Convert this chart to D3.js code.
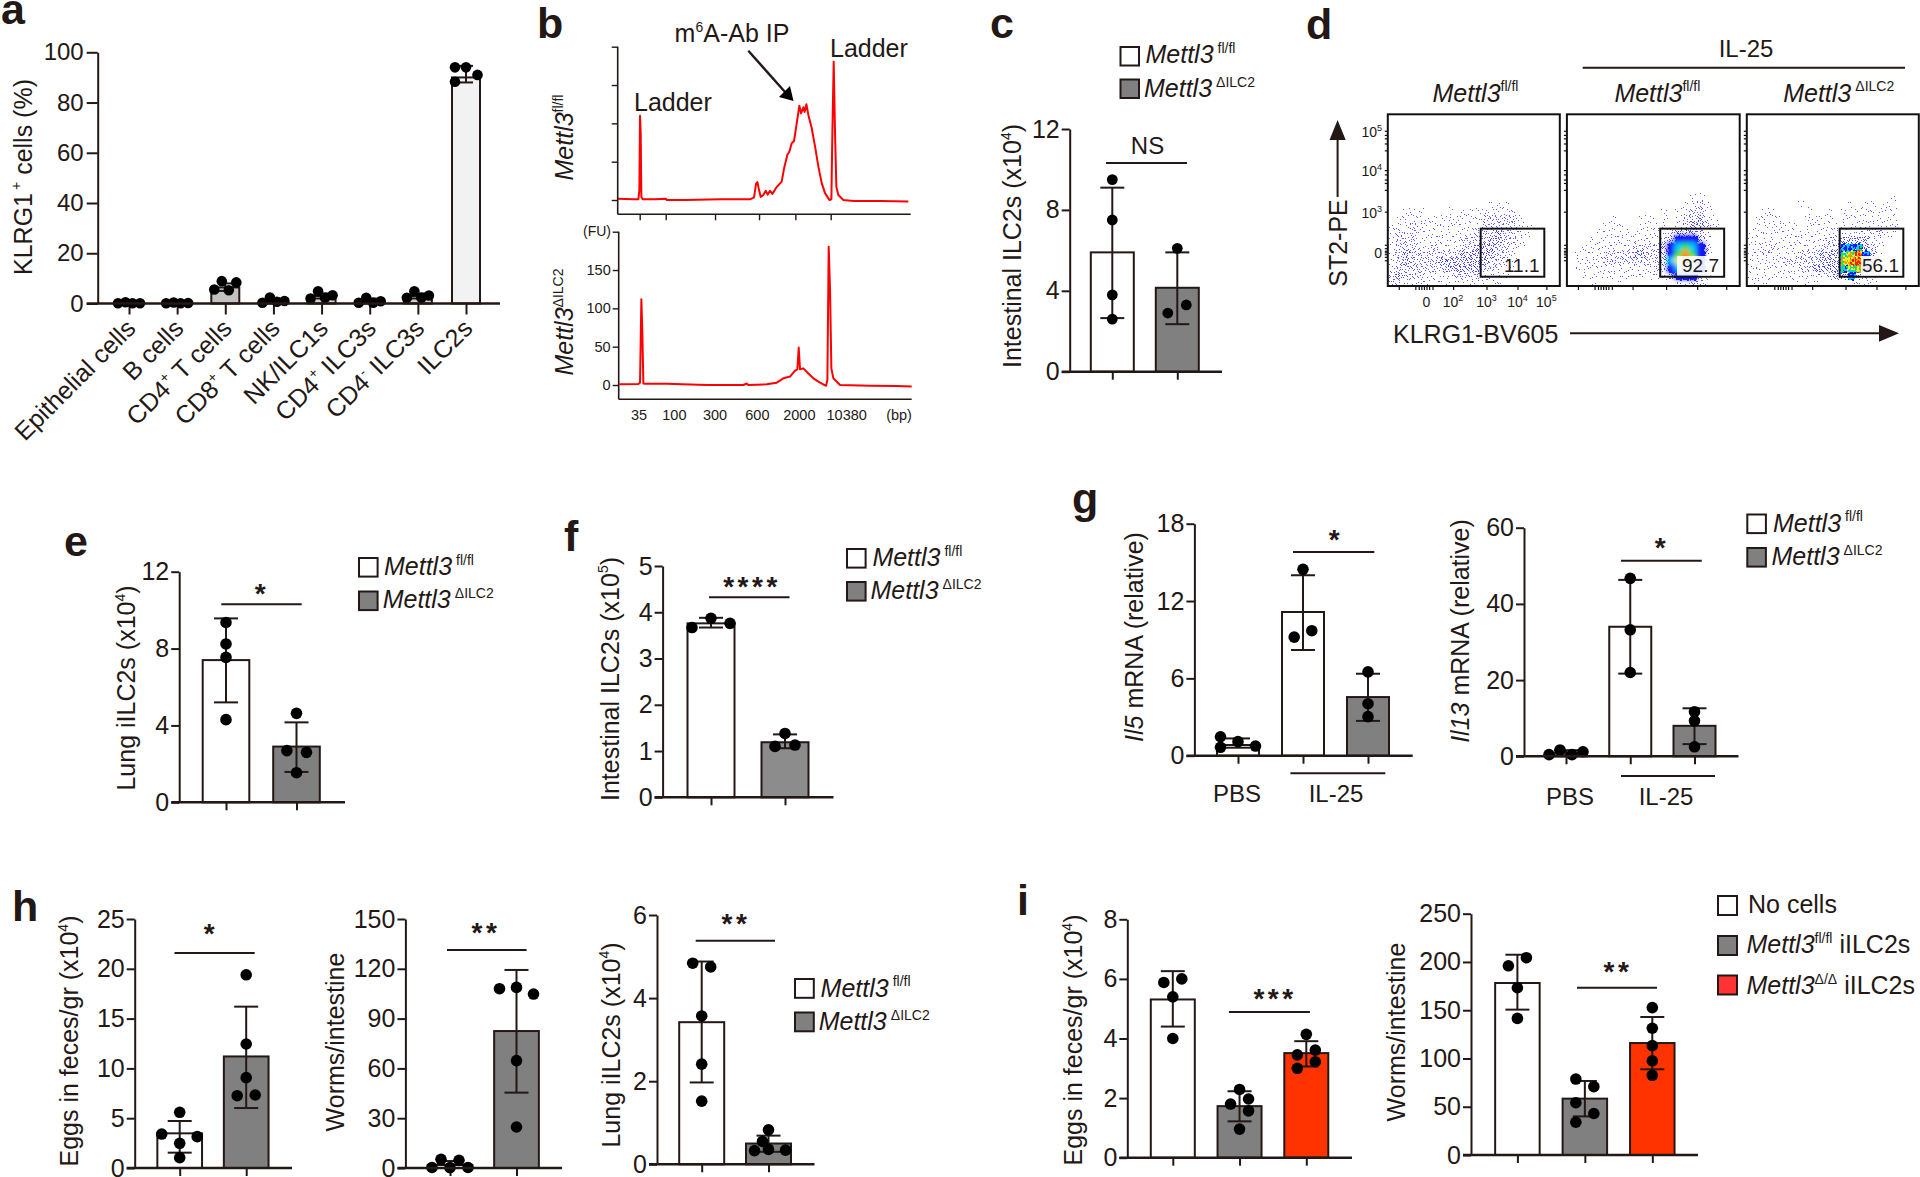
<!DOCTYPE html>
<html><head><meta charset="utf-8">
<script src="https://cdn.jsdelivr.net/npm/d3@7"></script>
<style>
html,body{margin:0;padding:0;background:#fff}
svg{display:block}
text{font-family:"Liberation Sans",Arial,sans-serif;fill:#231815}
</style></head><body>
<script>
// ---------- DATA ----------
const aCategories=[[["Epithelial cells"]],[["B cells"]],[["CD4"],["+","s"],[" T cells"]],[["CD8"],["+","s"],[" T cells"]],[["NK/ILC1s"]],[["CD4"],["+","s"],[" ILC3s"]],[["CD4"],["-","s"],[" ILC3s"]],[["ILC2s"]]];
const aMeans=[0.2,0.2,6.4,1,3,1,3,90];
const aHi=[0.3,0.3,8,2,4,2,4,94.6];
const aLo=[0.1,0.1,5,0.3,2,0.3,2,88];
const aDots=[[0.1,0.5,0.1,0.1],[0.1,0.4,0.1,0.2],[5.6,8.9,5.3,8.4],[0.3,2.4,0.7,1],[2,4.9,2.3,3.3],[0.3,2.3,0.3,0.9],[2.3,4.9,2.3,3.2],[94,94,91,88.3]];

const cMeans=[5.9,4.15],cHi=[9.1,5.9],cLo=[2.65,2.35],cDots=[[9.5,7.5,3.8,2.6],[6.1,3.3,2.9]];
const eMeans=[7.4,2.9],eHi=[9.57,4.16],eLo=[5.2,1.58],eDots=[[9.36,8.24,7.54,4.3],[4.63,2.69,2.6,1.54]];
const fMeans=[3.76,1.19],fHi=[3.88,1.36],fLo=[3.67,1.06],fDots=[[3.67,3.87,3.76],[1.38,1.1,1.13]];
const g1Means=[0.83,11.15,4.55],g1Hi=[1.34,14,6.36],g1Lo=[0.62,8.2,2.7],g1Dots=[[1.47,0.65,1.09,0.75],[14.46,9.2,9.7],[6.5,4.03,3.03]];
const g2Means=[0.9,34,8],g2Hi=[1.6,46.3,12.6],g2Lo=[0.3,21.7,3.2],g2Dots=[[0.44,1.66,0.44,1.2],[46.7,33.2,22],[11.7,9.3,2.5]];
const h1Means=[3.48,11.2],h1Hi=[4.72,16.2],h1Lo=[1.54,6.02],h1Dots=[[5.59,3.41,3.15,2.48,1.04],[19.4,12.45,9.07,7.26,7.33]];
const h2Means=[1.8,82.5],h2Hi=[4.2,119.3],h2Lo=[0,45.4],h2Dots=[[0.3,5.2,0.2,4.6,0.3],[108,108.8,104.8,64.7,24.7]];
const h3Means=[3.42,0.5],h3Hi=[4.88,0.69],h3Lo=[1.97,0.3],h3Dots=[[4.84,4.75,3.57,2.41,1.52],[0.83,0.55,0.33,0.36,0.34]];
const i1Means=[5.31,1.73,3.51],i1Hi=[6.26,2.23,3.91],i1Lo=[4.4,1.22,3.06],i1Dots=[[5.88,6,5.4,4],[2.29,1.97,1.8,1.57,0.96],[4.14,3.45,3.61,3.22,3]];
const i2Means=[178.2,58.4,116],i2Hi=[207.5,76.7,143],i2Lo=[150.6,40,88.8],i2Dots=[[204.4,196,173.3,141.5],[78.7,70.8,54.2,43,34],[152.7,131.3,113.3,97.5,82.6]];

// Electropherograms: [migration time (s), fluorescence units]
const bTraceFl=[[29.3,1.7],[34,0.9],[35.5,0.9],[35.8,13],[36,110],[36.2,87],[36.4,4],[36.8,1],[40.5,0.9],[43.8,1.7],[44,0],[50,0],[60,0.9],[69,0.9],[70.2,3.5],[70.8,21],[71.2,23.5],[71.6,15],[72.2,4],[73,6.5],[73.7,12],[74.3,7],[75,12],[75.7,8],[77,17],[78.5,24],[79.2,41],[80.2,59],[80.8,63],[81.5,74],[82.2,77],[83,100],[83.8,123],[84.3,113],[85,121],[85.4,115],[85.9,125],[86.5,111],[87.5,94],[88.5,70],[89.5,43.5],[90.5,22],[91.5,9],[92.8,0],[93.4,1],[93.7,87],[94.1,180.5],[94.5,87],[94.9,17],[95.5,6.5],[97,0],[100,-1.3],[108,-1.3],[116.5,-2]];
const bTraceKO=[[29.8,0.9],[35.5,1.3],[36,3],[36.4,112],[36.7,67],[37,2],[37.5,1.7],[44,1.7],[56,0],[67,0],[68,2],[68.5,0],[74,0.9],[77,3],[79,8.7],[81,11],[82.5,18.7],[83.2,20.4],[83.6,49],[84,20.4],[85,21.7],[86.5,15],[88,8.7],[90,3],[91.8,-1],[92.2,6.5],[92.6,180.5],[93,124],[93.4,21.7],[94,8.7],[96,0],[105,-1],[113,-1.3],[117.5,-2]];
const bYTicks=[0,50,100,150,200];
const bYLabels=[0,50,100,150];
const bTopXTicks=[35.9,43.7,58.5,71.7,82.6,93.2];
const bBpLabels=["35","100","300","600","2000","10380","(bp)"];
const bBpAt=[35.7,46.3,58.5,71.2,83.8,98,113.7];

// Flow plots: density rows 11-23 as digits (0 empty, 1-4 blue stipple, 5 cyan, 6 green, 7 yellow, 8 orange, 9 red)
const dDensity1=["000000000000000000000000","000000000000001110000000","001110001011111111000000","011111111111122222100000","111211111111122222110000","121211111111222322110000","122211111122223322100000","122211211122333221100000","123222222233333221000000","123222233333332211000000","122222223333322111000000","232221111222211110000000","221111111111111100000000"];
const dDensity2=["000000000000000001100000","000000000000000011210000","000000000000010112210000","000000100011010122311000","000001110011110123321000","000011111111112333210000","000111111111123444310000","001111111222234565420000","011112222332234686420000","011112222222235797420000","011111111111224575410000","001111111111113444210000","000100010000000112210000"];
const dDensity3=["000000000000000000001000","000000010000001011010000","001100001001010111111000","011110001111011111111000","011111101111111111111000","111111111111111112211000","111111111112233331100000","111211111122244532100000","112111122233367843100000","111112222233378953100000","111111122333356743100000","111111111112334321000000","011000101100001111000000"];
const dGateValues=["11.1","92.7","56.1"];
const dYTickLabels=[["10","5"],["10","4"],["10","3"],["0",""]];
const dXTickLabels=[["0",""],["10","2"],["10","3"],["10","4"],["10","5"]];
const dYChannels=[90.4,67.5,43.3,19.6];
const dXChannels=[22.5,37.9,57.4,75.4,92.2];

// ---------- LAYOUT ----------
const INK="#231815", GREY="#808080", RED="#ff3300";
const svg=d3.select("body").append("svg").attr("width",1920).attr("height",1177);
const FONT=25;

function rich(sel,segs,fs,supFs){
  let off=0;
  segs.forEach(seg=>{
    const s=seg[1]||"", dx=seg[2]||0;
    const sup=s.includes("s");
    const t=sel.append("tspan").text(seg[0]);
    const target=sup?-0.42*fs:0;
    t.attr("dy",target-off).attr("font-size",sup?(supFs||fs*0.56):fs);
    if(dx)t.attr("dx",dx);
    if(s.includes("i"))t.attr("font-style","italic");
    off=target;
  });
  return sel;
}
function text(x,y,segs,o={}){
  const fs=o.fs||FONT;
  const t=svg.append("text").attr("font-size",fs).attr("text-anchor",o.anchor||"start");
  if(o.rotate!==undefined)t.attr("transform",`translate(${x},${y}) rotate(${o.rotate})`);
  else t.attr("x",x).attr("y",y);
  if(o.weight)t.attr("font-weight",o.weight);
  return rich(t,typeof segs==="string"?[[segs]]:segs,fs,o.supFs);
}
function line(x1,y1,x2,y2,w=2){svg.append("line").attr("x1",x1).attr("y1",y1).attr("x2",x2).attr("y2",y2).attr("stroke",INK).attr("stroke-width",w);}

function barPanel(p){
  const g=svg.append("g");
  const cats=d3.range(p.means.length);
  const x=d3.scalePoint().domain(cats).range(p.centers);
  const y=d3.scaleLinear().domain([0,p.yMax]).range([p.yBase,p.yTop]);
  const tick=p.tick||8, lw=p.lw||2, r=p.r||5.8, cap=p.cap||12;
  g.selectAll("rect").data(p.means).join("rect")
    .attr("x",(d,i)=>x(i)-p.barW/2).attr("width",p.barW)
    .attr("y",d=>y(d)).attr("height",d=>y(0)-y(d))
    .attr("fill",(d,i)=>p.fills[i]).attr("stroke",INK).attr("stroke-width",lw);
  const ax=g.append("g").attr("transform",`translate(${p.axisX},0)`)
    .call(d3.axisLeft(y).tickValues(p.ticks).tickFormat(d3.format("d")).tickSize(tick).tickSizeOuter(0).tickPadding(p.pad||2));
  ax.selectAll("text").attr("font-size",p.tickFs||25).attr("font-family",null).style("fill",INK);
  ax.selectAll("line,path").attr("stroke",INK).attr("stroke-width",lw);
  const bx=g.append("g").attr("transform",`translate(0,${p.yBase})`)
    .call(d3.axisBottom(x).tickSize(tick).tickSizeOuter(0).tickFormat(""));
  bx.select("path").remove();
  bx.selectAll("line").attr("stroke",INK).attr("stroke-width",lw);
  line(p.axisX-tick,p.yBase,p.xEnd,p.yBase,lw+0.4);
  const e=g.append("g").attr("stroke",INK).attr("stroke-width",lw).attr("fill","none");
  p.means.forEach((m,i)=>{
    const cx=x(i);
    e.append("line").attr("x1",cx).attr("x2",cx).attr("y1",y(p.hi[i])).attr("y2",y(p.lo[i]));
    [p.hi[i],p.lo[i]].forEach(v=>e.append("line").attr("x1",cx-cap).attr("x2",cx+cap).attr("y1",y(v)).attr("y2",y(v)));
    g.append("g").selectAll("circle").data(p.dots[i]).join("circle")
      .attr("cx",(d,j)=>cx+p.swarm[i][j]).attr("cy",d=>y(d)).attr("r",r).attr("fill","#000");
  });
  if(p.title){
    text(p.title.x,p.title.y,p.title.segs,{rotate:-90,anchor:"middle"});
  }
  if(p.sig){
    const s=p.sig;
    line(s.x1,s.y,s.x2,s.y,2);
    if(s.label==="NS") text((s.x1+s.x2)/2+1,s.y-9,"NS",{anchor:"middle",fs:24});
    else{
      svg.append("text").attr("x",s.tx).attr("y",s.ty+16).attr("text-anchor","middle")
        .attr("font-size",28).attr("font-weight","bold").attr("letter-spacing",3.5).text(s.label);
    }
  }
}
function legend(items){
  items.forEach(it=>{
    svg.append("rect").attr("x",it.x).attr("y",it.y).attr("width",it.s).attr("height",it.s)
      .attr("fill",it.fill).attr("stroke",INK).attr("stroke-width",2);
    text(it.tx,it.ty,it.segs,{supFs:14});
  });
}
const FL=[["Mettl3","i"],["fl/fl","s",4]], KO=[["Mettl3","i"],["\u0394ILC2","s",4]];

// panel letters
[["a",1,24],["b",537,38],["c",990,38],["d",1306,39],["e",64,556],["f",564,551],["g",1072,513],["h",12,921],["i",1017,915]]
 .forEach(d=>svg.append("text").attr("x",d[1]).attr("y",d[2]).attr("font-size",43).attr("font-weight","bold").text(d[0]));

// ----- a -----
barPanel({means:aMeans,hi:aHi,lo:aLo,dots:aDots,axisX:97.7,yBase:303.5,yTop:52.3,yMax:100,xEnd:500,
  centers:[129,466],barW:28,ticks:[0,20,40,60,80,100],tick:11,r:5.3,cap:7,tickFs:24,pad:3,
  fills:["#fff","#fff","#c2c2c2","#fff","#d0d0d0","#fff","#d0d0d0","#f2f2f2"],
  swarm:[[-11,-3.5,3.5,11],[-11,-3.5,3.5,11],[-11,-3.5,3.5,11],[-11,-3.5,3.5,11],[-11,-3.5,3.5,11],[-11,-3.5,3.5,11],[-11,-3.5,3.5,11],[-11,0,11.5,-11]],
  title:{x:31.7,y:177,segs:[["KLRG1"],["+","s",3],[" cells (%)"]]}});
{
  const x=d3.scalePoint().domain(d3.range(aCategories.length)).range([129,466]);
  aCategories.forEach((segs,i)=>text(x(i)+8,330,segs,{rotate:-45,anchor:"end"}));
}

// ----- b -----
function bPanel(o){
  const x=d3.scaleLinear().domain(o.tDom).range(o.xRange);
  const y=d3.scaleLinear().domain([0,200]).range(o.yRange);
  const g=svg.append("g");
  const ay=g.append("g").attr("transform",`translate(${o.xRange[0]},0)`)
     .call(d3.axisLeft(y).tickValues(bYTicks).tickSize(6).tickFormat(d=>o.labels&&bYLabels.includes(d)?d:"").tickPadding(2));
  ay.select("path").remove();
  ay.selectAll("text").attr("font-size",14.5).attr("font-family",null).style("fill",INK);
  ay.selectAll("line").attr("stroke",INK).attr("stroke-width",1.4);
  line(o.xRange[0],y(200),o.xRange[0],o.axisY,1.6);
  line(o.xRange[0],o.axisY,o.xRange[1],o.axisY,1.6);
  if(o.ticks){
    const ax=g.append("g").attr("transform",`translate(0,${o.axisY})`)
      .call(d3.axisBottom(x).tickValues(o.ticks).tickSize(6).tickSizeOuter(0).tickFormat(""));
    ax.select("path").remove(); ax.selectAll("line").attr("stroke",INK).attr("stroke-width",1.4);
  }
  g.append("path").datum(o.trace).attr("fill","none").attr("stroke","#ff0000").attr("stroke-width",2).attr("stroke-linejoin","round")
    .attr("d",d3.line().x(d=>x(d[0])).y(d=>y(d[1])));
  return {x,y};
}
bPanel({tDom:[29.3,117.2],xRange:[617.7,910.7],yRange:[200,46.7],axisY:214.3,trace:bTraceFl,ticks:bTopXTicks});
const bBot=bPanel({tDom:[29.6,117.5],xRange:[618.7,911.7],yRange:[385,231.7],axisY:399.3,trace:bTraceKO,labels:true});
bBpLabels.forEach((l,i)=>text(bBot.x(bBpAt[i]),419.5,l,{anchor:"middle",fs:14.5}));
text(611,236,"(FU)",{anchor:"end",fs:14});
text(732,42,[["m"],["6","s"],["A-Ab IP"]],{anchor:"middle"});
text(634,111,"Ladder"); text(830,57,"Ladder");
text(573,137.5,[["Mettl3","i"],["fl/fl","s"]],{rotate:-90,anchor:"middle",supFs:14});
text(573,322,[["Mettl3","i"],["\u0394ILC2","s"]],{rotate:-90,anchor:"middle",supFs:14});
line(748.3,50.7,785,92,2.4);
svg.append("path").attr("fill","#000").attr("d",d3.line()([[793.5,101],[779,97],[790,86]]));

// ----- c -----
barPanel({means:cMeans,hi:cHi,lo:cLo,dots:cDots,axisX:1069.7,yBase:371.7,yTop:129,yMax:12,xEnd:1222,r:5.4,
  centers:[1112.3,1177.3],barW:43,ticks:[0,4,8,12],fills:["#fff",GREY],
  swarm:[[0,0,0,0],[0,9,-9.5]],
  title:{x:1021,y:246,segs:[["Intestinal ILC2s (x10"],["4","s"],[")"]]},
  sig:{x1:1106,x2:1187,y:163,label:"NS"}});
legend([{x:1120.5,y:47,s:18.5,fill:"#fff",tx:1145.5,ty:63,segs:FL},{x:1120.5,y:79.5,s:18.5,fill:GREY,tx:1144,ty:97,segs:KO}]);

// ----- d -----
const dOffsets=[[.12,.31],[.78,.14],[.42,.66],[.93,.52],[.27,.88],[.61,.22],[.05,.59],[.83,.81],[.36,.09],[.55,.44],[.17,.71],[.7,.96],[.48,.01],[.98,.27],[.23,.4],[.66,.62],[.31,.54],[.89,.06],[.08,.18],[.52,.78],[.74,.36],[.14,.95],[.43,.26],[.6,.89]];
const dCount=[0,3,8,14,24];
const defs=svg.append("defs");
defs.append("filter").attr("id","hot").attr("x","-20%").attr("y","-20%").attr("width","140%").attr("height","140%")
  .append("feGaussianBlur").attr("stdDeviation",2);
const hotColor=d3.scaleLinear().domain([4,5,6,7,8,9]).range(["#1616ff","#00c8ff","#20e060","#e8f020","#ff9a00","#ff2000"]);
function flow(left,right,density,val,valRight,patch,solid){
  const top=114.3,bot=286;
  const x=d3.scaleLinear().domain([0,100]).range([left,right]);
  const y=d3.scaleLinear().domain([0,100]).range([bot,top]);
  const col=d3.scaleBand().domain(d3.range(24)).range([left,right]);
  const row=d3.scaleBand().domain(d3.range(24)).range([top,bot]);
  const gp=svg.append("g"), hot=svg.append("g").attr("filter","url(#hot)");
  density.forEach((s,ri)=>{
    const r=ri+11;
    s.split("").forEach((ch,c)=>{
      const v=+ch;
      if(solid && v>=4) hot.append("rect").attr("x",col(c)-0.5).attr("y",row(r)-0.5).attr("width",col.bandwidth()+1).attr("height",row.bandwidth()+1).attr("fill",hotColor(v));
      const n=dCount[Math.min(v,4)];
      for(let k=0;k<n;k++){
        const o=dOffsets[(k+r*7+c*11)%dOffsets.length];
        let fill=v>=3?"#1a1af0":"#3434ff";
        if(!solid && v>=4) fill=k%3===0?hotColor(Math.max(4,v-1)):k%3===1?hotColor(v):hotColor(Math.min(9,v+1));
        else if(v===3 && k===0) fill="#ffb040";
        const sz=v>=4?2:1;
        gp.append("rect").attr("x",Math.round(col(c)+o[0]*col.bandwidth())).attr("y",Math.round(row(r)+o[1]*row.bandwidth()))
          .attr("width",sz).attr("height",sz).attr("fill",fill).attr("opacity",v>=4?1:.8);
      }
    });
  });
  svg.append("rect").attr("x",left).attr("y",top).attr("width",right-left).attr("height",bot-top).attr("fill","none").attr("stroke","#111").attr("stroke-width",2);
  // gate
  svg.append("rect").attr("x",x(54)).attr("y",y(33.4)).attr("width",x(91)-x(54)).attr("height",y(5.4)-y(33.4)).attr("fill","none").attr("stroke","#111").attr("stroke-width",2);
  if(patch) svg.append("rect").attr("x",valRight-patch).attr("y",256).attr("width",patch+3).attr("height",19.5).attr("fill","#fff").attr("opacity",.9);
  text(valRight,271.7,val,{anchor:"end",fs:19});
  // axis ticks
  const ax=svg.append("g").attr("transform",`translate(0,${bot})`)
    .call(d3.axisBottom(x).tickValues([6.4,16,18,19.5,21,22.5,24,26,38,57.4,75.4,92.2]).tickSize(4).tickFormat(""));
  ax.select("path").remove(); ax.selectAll("line").attr("stroke","#111").attr("stroke-width",1.2);
  const ay=svg.append("g").attr("transform",`translate(${left},0)`)
    .call(d3.axisLeft(y).tickValues([...dYChannels,15,17,18.5,20.5,22,24,79,83,86,88,56,60,62,65]).tickSize(3).tickFormat(""));
  ay.select("path").remove(); ay.selectAll("line").attr("stroke","#111").attr("stroke-width",1.2);
  return {x,y};
}
const d1=flow(1387.8,1559.8,dDensity1,dGateValues[0],1539.5,0,false);
flow(1566.9,1739.7,dDensity2,dGateValues[1],1719,42,true);
flow(1746.8,1918.8,dDensity3,dGateValues[2],1899,38,false);
dYTickLabels.forEach((l,i)=>text(1382,d1.y(dYChannels[i])+6,[[l[0]],[l[1],"s"]],{anchor:"end",fs:14,supFs:9}));
dXTickLabels.forEach((l,i)=>text(d1.x(dXChannels[i]),307,[[l[0]],[l[1],"s"]],{anchor:"middle",fs:14,supFs:9}));
text(1432.5,101.7,[["Mettl3","i"],["fl/fl","s"]],{supFs:14});
text(1614.4,101.7,[["Mettl3","i"],["fl/fl","s"]],{supFs:14});
text(1783.2,101.7,[["Mettl3","i"],["\u0394ILC2","s",4]],{supFs:14});
text(1746,57.3,"IL-25",{anchor:"middle",fs:24});
line(1582.7,67.7,1905,67.7,2);
text(1347.4,243,"ST2-PE",{rotate:-90,anchor:"middle"});
text(1393,343,"KLRG1-BV605");
line(1337.6,197,1337.6,138,2);
svg.append("path").attr("fill",INK).attr("d",d3.line()([[1337.6,120],[1329.5,140],[1345.7,140]]));
line(1570,333.3,1880,333.3,2);
svg.append("path").attr("fill",INK).attr("d",d3.line()([[1899,333.3],[1879,325],[1879,341.7]]));

// ----- e -----
barPanel({means:eMeans,hi:eHi,lo:eLo,dots:eDots,axisX:179.2,yBase:802.3,yTop:571.7,yMax:12,xEnd:345,
  centers:[226,296.5],barW:46.6,ticks:[0,4,8,12],fills:["#fff",GREY],swarm:[[0,0,0,0],[0,-9.6,10,0]],
  title:{x:135,y:688,segs:[["Lung iILC2s (x10"],["4","s"],[")"]]},
  sig:{x1:221.3,x2:301.7,y:604.3,label:"*",tx:262,ty:587}});
legend([{x:359,y:558,s:18.6,fill:"#fff",tx:384,ty:575,segs:FL},{x:359,y:591.5,s:18.6,fill:GREY,tx:382.7,ty:608,segs:KO}]);

// ----- f -----
barPanel({means:fMeans,hi:fHi,lo:fLo,dots:fDots,axisX:662.6,yBase:797.3,yTop:566,yMax:5,xEnd:833.5,
  centers:[711,785],barW:47,ticks:[0,1,2,3,4,5],fills:["#fff","#8c8c8c"],swarm:[[-19,0,19],[0,-10,10]],
  title:{x:618.6,y:679,segs:[["Intestinal ILC2s (x10"],["5","s"],[")"]]},
  sig:{x1:709,x2:789.5,y:597.3,label:"****",tx:752,ty:580}});
legend([{x:847,y:549,s:18.6,fill:"#fff",tx:872.4,ty:566,segs:FL},{x:847,y:582,s:18.6,fill:GREY,tx:870.5,ty:599.3,segs:KO}]);

// ----- g -----
barPanel({means:g1Means,hi:g1Hi,lo:g1Lo,dots:g1Dots,axisX:1194.4,yBase:755.7,yTop:523.7,yMax:18,xEnd:1412.7,
  centers:[1238,1368],barW:42,ticks:[0,6,12,18],fills:["#fff","#fff",GREY],swarm:[[-17.5,-17.5,0,17.5],[0,-8.8,8.8],[0,0,0]],
  title:{x:1143.4,y:637,segs:[["Il5","i"],[" mRNA (relative)"]]},
  sig:{x1:1293,x2:1374.3,y:552,label:"*",tx:1336,ty:533}});
line(1290.4,773.3,1385.3,773.3,2);
text(1237,801.7,"PBS",{anchor:"middle",fs:24}); text(1336,801.7,"IL-25",{anchor:"middle",fs:24});
barPanel({means:g2Means,hi:g2Hi,lo:g2Lo,dots:g2Dots,axisX:1524,yBase:756.3,yTop:527.7,yMax:60,xEnd:1738.5,
  centers:[1566,1694.5],barW:42,ticks:[0,20,40,60],fills:["#fff","#fff",GREY],swarm:[[-17,-6,6,17],[0,0,0],[0,0,0]],
  title:{x:1468.7,y:631,segs:[["Il13","i"],[" mRNA (relative)"]]},
  sig:{x1:1621,x2:1701.8,y:560.7,label:"*",tx:1662,ty:541}});
line(1621,776,1715,776,2);
text(1570,805,"PBS",{anchor:"middle",fs:24}); text(1666,805,"IL-25",{anchor:"middle",fs:24});
legend([{x:1747.3,y:514.5,s:18.6,fill:"#fff",tx:1773,ty:531.7,segs:FL},{x:1747.3,y:548,s:18.6,fill:GREY,tx:1771.5,ty:565,segs:KO}]);

// ----- h -----
barPanel({means:h1Means,hi:h1Hi,lo:h1Lo,dots:h1Dots,axisX:134.7,yBase:1168,yTop:919,yMax:25,xEnd:292,
  centers:[179.7,246.2],barW:44.7,ticks:[0,5,10,15,20,25],fills:["#fff",GREY],swarm:[[0,-18,17.5,0,0],[0,0,0,-9,9]],
  title:{x:78.4,y:1041,segs:[["Eggs in feces/gr (x10"],["4","s"],[")"]]},
  sig:{x1:174.5,x2:254.7,y:953,label:"*",tx:211,ty:927}});
barPanel({means:h2Means,hi:h2Hi,lo:h2Lo,dots:h2Dots,axisX:405.4,yBase:1168,yTop:919,yMax:150,xEnd:562,
  centers:[450,516.5],barW:44.7,ticks:[0,30,60,90,120,150],fills:["#fff",GREY],swarm:[[-18,-9,0,9,18],[-17,0,17,0,0]],
  title:{x:344,y:1042,segs:[["Worms/intestine"]]},
  sig:{x1:447,x2:526.6,y:950,label:"**",tx:486,ty:926}});
barPanel({means:h3Means,hi:h3Hi,lo:h3Lo,dots:h3Dots,axisX:657,yBase:1164.3,yTop:915,yMax:6,xEnd:814.5,
  centers:[701.7,768.5],barW:45,ticks:[0,2,4,6],fills:["#fff",GREY],swarm:[[-9,9,0,0,0],[0,-6,-14,0,17]],
  title:{x:619.7,y:1045,segs:[["Lung iILC2s (x10"],["4","s"],[")"]]},
  sig:{x1:695.7,x2:775,y:940.7,label:"**",tx:736,ty:917}});
legend([{x:795,y:979,s:18.8,fill:"#fff",tx:820.6,ty:996.7,segs:FL},{x:795,y:1012.5,s:18.8,fill:GREY,tx:818.7,ty:1030,segs:KO}]);

// ----- i -----
barPanel({means:i1Means,hi:i1Hi,lo:i1Lo,dots:i1Dots,axisX:1127.3,yBase:1157.7,yTop:919.3,yMax:8,xEnd:1352,
  centers:[1172.8,1306.3],barW:44,ticks:[0,2,4,6,8],fills:["#fff",GREY,RED],swarm:[[-9,9,0,0],[0,9,-9,9,0],[0,-9,9,9,-9]],
  title:{x:1082,y:1040,segs:[["Eggs in feces/gr (x10"],["4","s"],[")"]]},
  sig:{x1:1228.9,x2:1309.9,y:1012,label:"***",tx:1275,ty:992}});
barPanel({means:i2Means,hi:i2Hi,lo:i2Lo,dots:i2Dots,axisX:1471,yBase:1155,yTop:913.7,yMax:250,xEnd:1698,
  centers:[1517.4,1652.3],barW:44.5,ticks:[0,50,100,150,200,250],fills:["#fff",GREY,RED],swarm:[[9,-9,0,0],[-9,9,-9,9,-9],[0,0,0,0,0]],
  title:{x:1405,y:1032,segs:[["Worms/intestine"]]},
  sig:{x1:1577,x2:1657,y:987.7,label:"**",tx:1618,ty:965}});
legend([
 {x:1718,y:896,s:19,fill:"#fff",tx:1748,ty:913.3,segs:[["No cells"]]},
 {x:1718,y:936,s:19,fill:GREY,tx:1746.5,ty:953.3,segs:[["Mettl3","i"],["fl/fl","s"],[" iILC2s"]]},
 {x:1718,y:975.5,s:19,fill:"#ff3333",tx:1746.5,ty:994.3,segs:[["Mettl3","i"],["\u0394/\u0394","s"],[" iILC2s"]]}]);
</script>
</body></html>
